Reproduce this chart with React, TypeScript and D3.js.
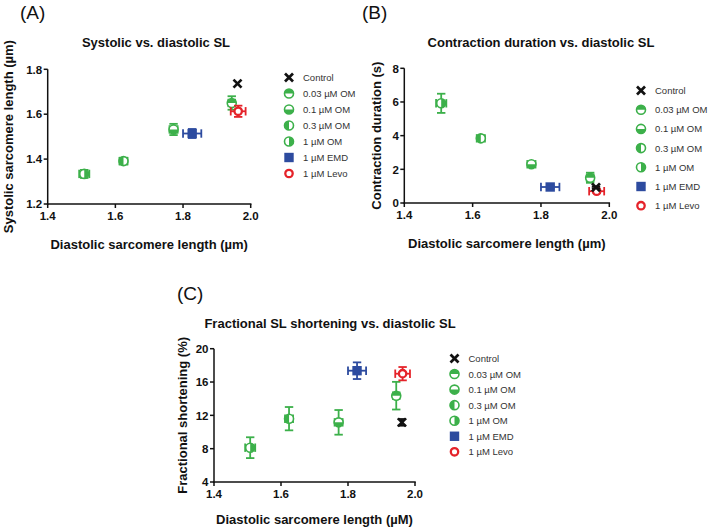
import React from "react";
import * as d3 from "d3";

const groups = ["Control", "0.03 µM OM", "0.1 µM OM", "0.3 µM OM", "1 µM OM", "1 µM EMD", "1 µM Levo"];
const markerKinds = ["x", "top", "bottom", "left", "right", "square", "ring"];
const groupColors = ["#111111", "#3cb04a", "#3cb04a", "#3cb04a", "#3cb04a", "#2d4b9f", "#e5232a"];

const diastolicSL = [1.961, 1.944, 1.772, 1.624, 1.508, 1.827, 1.963];
const diastolicErr = [0.0, 0.01, 0.012, 0.012, 0.015, 0.027, 0.022];
const systolicSL = [1.736, 1.650, 1.532, 1.391, 1.334, 1.514, 1.613];
const systolicErr = [0.0, 0.03, 0.025, 0.015, 0.018, 0.02, 0.025];
const duration = [0.93, 1.5, 2.3, 3.84, 5.92, 0.95, 0.7];
const durationErr = [0.05, 0.3, 0.12, 0.15, 0.57, 0.1, 0.1];
const shortening = [11.16, 14.36, 11.16, 11.6, 8.12, 17.36, 17.0];
const shorteningErr = [0.4, 1.66, 1.48, 1.4, 1.25, 1.0, 0.8];

const xTicks = [1.4, 1.6, 1.8, 2.0];
const yTicksA = [1.2, 1.4, 1.6, 1.8];
const yTicksB = [0, 2, 4, 6, 8];
const yTicksC = [4, 8, 12, 16, 20];

const FONT = "'Liberation Sans', Arial, Helvetica, sans-serif";

function Marker({ kind, color, x, y }: { kind: string; color: string; x: number; y: number }) {
  const r = 4.5;
  if (kind === "x") {
    const s = 4;
    return (
      <g stroke={color} strokeWidth={2.7} strokeLinecap="butt">
        <line x1={x - s} y1={y - s} x2={x + s} y2={y + s} />
        <line x1={x - s} y1={y + s} x2={x + s} y2={y - s} />
      </g>
    );
  }
  if (kind === "square") {
    return <rect x={x - 4.7} y={y - 4.7} width={9.4} height={9.4} fill={color} />;
  }
  if (kind === "ring") {
    return <circle cx={x} cy={y} r={3.7} fill="#fff" stroke={color} strokeWidth={2.3} />;
  }
  const arc = d3.arc();
  let start = 0;
  if (kind === "top") start = -Math.PI / 2;
  if (kind === "bottom") start = Math.PI / 2;
  if (kind === "left") start = Math.PI;
  if (kind === "right") start = 0;
  const d = arc({ innerRadius: 0, outerRadius: r, startAngle: start, endAngle: start + Math.PI }) as string;
  return (
    <g>
      <circle cx={x} cy={y} r={r} fill="#fff" stroke={color} strokeWidth={1.6} />
      <path d={d} transform={`translate(${x},${y})`} fill={color} />
    </g>
  );
}

type PanelProps = {
  letter: string;
  letterX: number;
  letterY: number;
  title: string;
  titleX: number;
  titleY: number;
  xLabel: string;
  xLabelY: number;
  yLabel: string;
  yLabelX: number;
  xRange: [number, number];
  yRange: [number, number];
  yDomain: [number, number];
  yTicks: number[];
  yFmt: (v: number) => string;
  ys: number[];
  yErr: number[];
  legendX: number;
  legendY: number;
  legendStep: number;
};

function Panel(p: PanelProps) {
  const x = d3.scaleLinear().domain([1.4, 2.0]).range(p.xRange);
  const y = d3.scaleLinear().domain(p.yDomain).range(p.yRange);
  const x0 = p.xRange[0];
  const y0 = p.yRange[0];
  const cap = 4.2;
  const order = [1, 2, 3, 4, 5, 6, 0];
  return (
    <g fontFamily={FONT}>
      <text x={p.letterX} y={p.letterY} fontSize={19} fill="#111">{p.letter}</text>
      <text x={p.titleX} y={p.titleY} fontSize={13} fontWeight="bold" textAnchor="middle" fill="#111">{p.title}</text>
      <line x1={x0} y1={p.yRange[1]} x2={x0} y2={y0 + 0.75} stroke="#111" strokeWidth={1.5} />
      <line x1={x0 - 0.75} y1={y0} x2={p.xRange[1] + 0.75} y2={y0} stroke="#111" strokeWidth={1.5} />
      {p.yTicks.map((t) => (
        <g key={"y" + t}>
          <line x1={x0 - 4} x2={x0} y1={y(t)} y2={y(t)} stroke="#111" strokeWidth={1.5} />
          <text x={x0 - 5.5} y={y(t) + 4.2} fontSize={11.5} fontWeight="bold" textAnchor="end" fill="#111">{p.yFmt(t)}</text>
        </g>
      ))}
      {xTicks.map((t) => (
        <g key={"x" + t}>
          <line x1={x(t)} x2={x(t)} y1={y0} y2={y0 + 4} stroke="#111" strokeWidth={1.5} />
          <text x={x(t)} y={y0 + 15.5} fontSize={11.5} fontWeight="bold" textAnchor="middle" fill="#111">{t.toFixed(1)}</text>
        </g>
      ))}
      <text x={(p.xRange[0] + p.xRange[1]) / 2} y={p.xLabelY} fontSize={13} fontWeight="bold" textAnchor="middle" fill="#111">{p.xLabel}</text>
      <text transform={`translate(${p.yLabelX},${(p.yRange[0] + p.yRange[1]) / 2}) rotate(-90)`} fontSize={13} fontWeight="bold" textAnchor="middle" fill="#111">{p.yLabel}</text>
      {order.map((i) => {
        const cx = x(diastolicSL[i]);
        const cy = y(p.ys[i]);
        const c = groupColors[i];
        const ex = diastolicErr[i];
        const ey = p.yErr[i];
        const xl = x(diastolicSL[i] - ex), xr = x(diastolicSL[i] + ex);
        const yt = y(p.ys[i] + ey), yb = y(p.ys[i] - ey);
        return (
          <g key={"pt" + i}>
            <g stroke={c} strokeWidth={1.8} fill="none">
              {ex > 0 && (
                <>
                  <line x1={xl} x2={xr} y1={cy} y2={cy} />
                  <line x1={xl} x2={xl} y1={cy - cap} y2={cy + cap} />
                  <line x1={xr} x2={xr} y1={cy - cap} y2={cy + cap} />
                </>
              )}
              {ey > 0 && (
                <>
                  <line x1={cx} x2={cx} y1={yt} y2={yb} />
                  <line x1={cx - cap} x2={cx + cap} y1={yt} y2={yt} />
                  <line x1={cx - cap} x2={cx + cap} y1={yb} y2={yb} />
                </>
              )}
            </g>
            <Marker kind={markerKinds[i]} color={c} x={cx} y={cy} />
          </g>
        );
      })}
      {groups.map((g, i) => {
        const ly = p.legendY + i * p.legendStep;
        return (
          <g key={"lg" + i}>
            <Marker kind={markerKinds[i]} color={groupColors[i]} x={p.legendX} y={ly} />
            <text x={p.legendX + 14} y={ly + 3.5} fontSize={9.5} fill="#333">{g}</text>
          </g>
        );
      })}
    </g>
  );
}

export default function App() {
  return (
    <svg width={709} height={529} style={{ position: "absolute", left: 0, top: 0, background: "#fff" }}>
      <rect width={709} height={529} fill="#fff" />
      <Panel
        letter="(A)" letterX={20} letterY={19}
        title="Systolic vs. diastolic SL" titleX={156} titleY={47}
        xLabel="Diastolic sarcomere length (µm)" xLabelY={248.5}
        yLabel="Systolic sarcomere length (µm)" yLabelX={13}
        xRange={[47.7, 250.7]} yRange={[204, 69.3]} yDomain={[1.2, 1.8]}
        yTicks={yTicksA} yFmt={(v) => v.toFixed(1)}
        ys={systolicSL} yErr={systolicErr}
        legendX={289} legendY={77.5} legendStep={16}
      />
      <Panel
        letter="(B)" letterX={362} letterY={19}
        title="Contraction duration vs. diastolic SL" titleX={541} titleY={47}
        xLabel="Diastolic sarcomere length (µm)" xLabelY={247.5}
        yLabel="Contraction duration (s)" yLabelX={381}
        xRange={[404.3, 609.3]} yRange={[203, 68.3]} yDomain={[0, 8]}
        yTicks={yTicksB} yFmt={(v) => String(v)}
        ys={duration} yErr={durationErr}
        legendX={641} legendY={90.5} legendStep={19.2}
      />
      <Panel
        letter="(C)" letterX={177} letterY={300}
        title="Fractional SL shortening vs. diastolic SL" titleX={330} titleY={328}
        xLabel="Diastolic sarcomere length (µM)" xLabelY={523.5}
        yLabel="Fractional shortening (%)" yLabelX={187}
        xRange={[214, 415]} yRange={[482, 348.7]} yDomain={[4, 20]}
        yTicks={yTicksC} yFmt={(v) => String(v)}
        ys={shortening} yErr={shorteningErr}
        legendX={454.5} legendY={358.5} legendStep={15.55}
      />
    </svg>
  );
}
